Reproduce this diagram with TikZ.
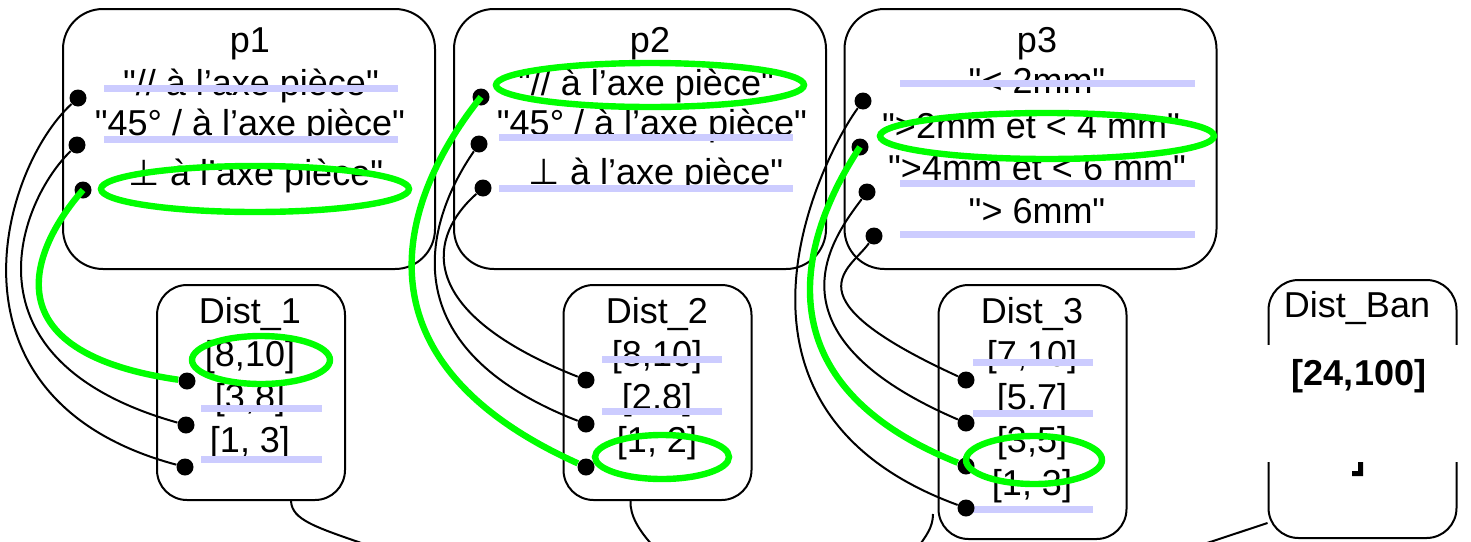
\documentclass[tikz,border=0pt]{standalone}
\usepackage{fontspec}
\setmainfont{Liberation Sans}[Ligatures=TeXOff]
\newfontfamily\symb{DejaVu Sans}
\definecolor{hlgreen}{RGB}{0,255,0}
\definecolor{lav}{RGB}{204,204,255}
\begin{document}
\begin{tikzpicture}[x=0.5pt, y=-0.5pt, node distance={21.5pt},
  lbl/.style = {font=\fontsize{18pt}{20pt}\selectfont, inner sep=0pt, text height=13pt, text depth=4pt},
  pbox/.style = {draw, line width=1pt, rounded corners=20pt, minimum width=186pt, minimum height=130pt},
  dbox/.style = {draw, line width=1pt, rounded corners=15pt, minimum width=94pt, minimum height=107.5pt},
  dot/.style = {circle, fill, inner sep=0pt, minimum size=8.5pt},
  wire/.style = {line width=1pt},
  hl/.style = {draw=hlgreen, line width=3.2pt},
  band/.style = {draw=lav, line width=3.5pt}]
\useasboundingbox (0,0) rectangle (1471,541);

\node[pbox] (p1) at (249,139) {};
\node[pbox] (p2) at (640,139) {};
\node[pbox] (p3) at (1030.5,139) {};
\node[dbox] (d1) at (251,392.5) {};
\node[dbox] (d2) at (657.5,392.5) {};
\node[dbox, minimum height=127pt] (d3) at (1032.5,412) {};
\node[dbox, minimum height=129pt] (dban) at (1362.5,409) {};

\node[lbl, anchor=base] (p1t) at (250,52) {p1};
\node[lbl, anchor=base] (p1l1) at (251,95) {"// à l’axe pièce"};
\node[lbl, anchor=base] (p1l2) at (250,135) {"45° / à l’axe pièce"};
\node[lbl, anchor=base] (p1l3) at (256,185) {{\symb ⊥} à l’axe pièce"};

\node[lbl, anchor=base] (p2t) at (650,52) {p2};
\node[lbl, anchor=base] (p2l1) at (646,95) {"// à l’axe pièce"};
\node[lbl, anchor=base] (p2l2) at (652,135) {"45° / à l’axe pièce"};
\node[lbl, anchor=base] (p2l3) at (656,184) {{\symb ⊥} à l’axe pièce"};

\node[lbl, anchor=base] (p3t) at (1037,52) {p3};
\node[lbl, anchor=base] (p3l1) at (1037,93) {"< 2mm"};
\node[lbl, anchor=base] (p3l2) at (1031,138) {">2mm et < 4 mm"};
\node[lbl, anchor=base] (p3l3) at (1037,180) {">4mm et < 6 mm"};
\node[lbl, anchor=base] (p3l4) at (1037,223) {"> 6mm"};

\node[lbl, anchor=base] (d1t) at (250,323) {Dist\_1};
\node[lbl] (d1l1) [below of=d1t] {[8,10]};
\node[lbl] (d1l2) [below of=d1l1] {[3,8]};
\node[lbl] (d1l3) [below of=d1l2] {[1, 3]};

\node[lbl, anchor=base] (d2t) at (657,323) {Dist\_2};
\node[lbl] (d2l1) [below of=d2t] {[8,10]};
\node[lbl] (d2l2) [below of=d2l1] {[2,8]};
\node[lbl] (d2l3) [below of=d2l2] {[1, 2]};

\node[lbl, anchor=base] (d3t) at (1032,323) {Dist\_3};
\node[lbl] (d3l1) [below of=d3t] {[7,10]};
\node[lbl] (d3l2) [below of=d3l1] {[5.7]};
\node[lbl] (d3l3) [below of=d3l2] {[3,5]};
\node[lbl] (d3l4) [below of=d3l3] {[1, 3]};

\draw[band] (104,88) -- (398,88);
\draw[band] (104,139) -- (398,139);
\draw[band] (499,137) -- (793,137);
\draw[band] (499,188) -- (793,188);
\draw[band] (900,83) -- (1195,83);
\draw[band] (900,183) -- (1195,183);
\draw[band] (900,234) -- (1195,234);
\draw[band] (201,408) -- (322,408);
\draw[band] (201,459) -- (322,459);
\draw[band] (602,359) -- (722,359);
\draw[band] (602,411) -- (722,411);
\draw[band] (973,362) -- (1093,362);
\draw[band] (973,413) -- (1093,413);
\draw[band] (973,509) -- (1093,509);

\fill[white] (1260,345) rectangle (1466,462);
\node[lbl, anchor=base] (dbant) at (1357,317) {Dist\_Ban};
\node[lbl, anchor=base, font=\fontsize{18pt}{20pt}\selectfont\bfseries] (dbanv) at (1359,385) {[24,100]};
\fill (1358,462) -- (1363,462) -- (1363,476) -- (1352,476) -- (1352,471) -- (1358,471) -- cycle;

\coordinate (o1) at (370,546);
\coordinate (o2) at (655,548);
\coordinate (o3a) at (933,514);
\coordinate (o3b) at (919,546);
\coordinate (o4) at (1195,547);
\draw[wire] ([xshift=20pt]d1.south) .. controls (292,520) and (315,527) .. (o1);
\draw[wire] ([xshift=-13.5pt]d2.south) .. controls (630,515) and (638,530) .. (o2);
\draw[wire] (o3a) .. controls (933,528) and (925,537) .. (o3b);
\draw[wire] ([yshift=8pt]dban.south west) -- (o4);

\node[dot] (p1a) at (78,98) {};
\node[dot] (p1b) at (77,145) {};
\node[dot] (p1c) at (83,190) {};
\node[dot] (p2a) at (481,97) {};
\node[dot] (p2b) at (479,144) {};
\node[dot] (p2c) at (483,188) {};
\node[dot] (p3a) at (863,101) {};
\node[dot] (p3b) at (860,147) {};
\node[dot] (p3c) at (867,192) {};
\node[dot] (p3d) at (874,236) {};
\node[dot] (d1a) at (187,381) {};
\node[dot] (d1b) at (186,425) {};
\node[dot] (d1c) at (185,467) {};
\node[dot] (d2a) at (586,380) {};
\node[dot] (d2b) at (586,424) {};
\node[dot] (d2c) at (586,467) {};
\node[dot] (d3a) at (966,380) {};
\node[dot] (d3b) at (966,423) {};
\node[dot] (d3c) at (966,466) {};
\node[dot] (d3d) at (966,508) {};

\draw[wire] (p1a) .. controls (0,170) and (-65,400) .. (d1c);
\draw[wire] (p1b) .. controls (20,200) and (-45,360) .. (d1b);
\draw[wire] (p2b) .. controls (440,200) and (370,340) .. (d2b);
\draw[wire] (p2c) .. controls (430,235) and (410,310) .. (d2a);
\draw[wire] (p3a) .. controls (820,160) and (696,409) .. (d3d);
\draw[wire] (p3c) .. controls (835,235) and (757,333) .. (d3b);
\draw[wire] (p3d) .. controls (850,270) and (785,297) .. (d3a);

\draw[hl] (p1c.center) .. controls (43,235) and (-26,350) .. (d1a);
\draw[hl] (p2a.center) .. controls (430,160) and (315,345) .. (d2c);
\draw[hl] (p3b.center) .. controls (825,200) and (729,371) .. (d3c);

\draw[hl] (255,189) ellipse [x radius=77pt, y radius=11.5pt];
\draw[hl] (650,85) ellipse [x radius=77pt, y radius=11pt];
\draw[hl] (1047,136) ellipse [x radius=83.5pt, y radius=11.5pt];
\draw[hl] (261,360) ellipse [x radius=34.5pt, y radius=12pt];
\draw[hl] (662,457) ellipse [x radius=33.5pt, y radius=11pt];
\draw[hl] (1034,460) ellipse [x radius=34pt, y radius=12pt];
\end{tikzpicture}
\end{document}
